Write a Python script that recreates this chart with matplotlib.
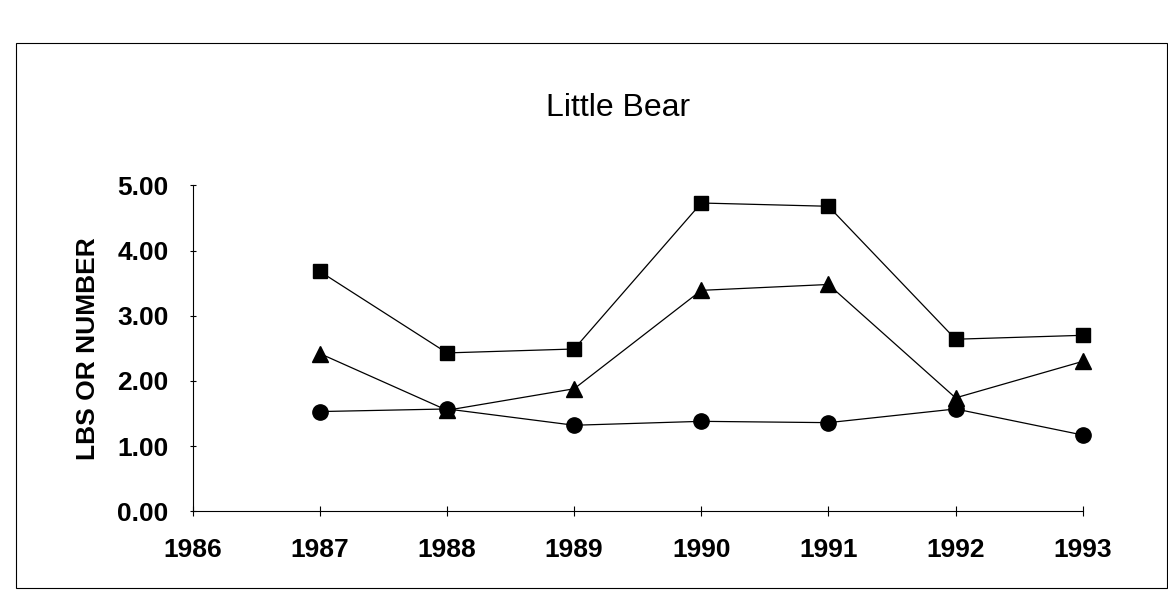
import matplotlib
matplotlib.use("Agg")
from matplotlib import pyplot as plt
from matplotlib.patches import Rectangle

# values
years = [1987, 1988, 1989, 1990, 1991, 1992, 1993]
squares = [3.68, 2.43, 2.49, 4.73, 4.68, 2.64, 2.70]
triangles = [2.42, 1.55, 1.88, 3.39, 3.48, 1.74, 2.30]
circles = [1.53, 1.57, 1.32, 1.38, 1.36, 1.57, 1.17]

x_ticks = [1986, 1987, 1988, 1989, 1990, 1991, 1992, 1993]
y_ticks = [0, 1, 2, 3, 4, 5]

plt.rcParams["font.family"] = ["Liberation Sans", "DejaVu Sans"]

fig = plt.figure(figsize=(11.68, 6.16), dpi=100)
ax = fig.add_axes([0.165, 0.17, 0.762, 0.529])

# frame of the page box
fig.patches.append(Rectangle((0.014, 0.045), 0.985, 0.885, transform=fig.transFigure,
                             fill=False, edgecolor="black", linewidth=0.8))

ax.plot(years, squares, color="black", linewidth=0.9, marker="s", markersize=10.5)
ax.plot(years, triangles, color="black", linewidth=0.9, marker="^", markersize=11)
ax.plot(years, circles, color="black", linewidth=0.9, marker="o", markersize=11)

ax.set_xlim(1986, 1993)
ax.set_ylim(0, 5)
ax.set_xticks(x_ticks)
ax.set_xticklabels([str(y) for y in x_ticks], fontweight="bold")
ax.set_yticks(y_ticks)
ax.set_yticklabels([f"{v:.2f}" for v in y_ticks], fontweight="bold")

for side in ["top", "right"]:
    ax.spines[side].set_visible(False)
for side in ["left", "bottom"]:
    ax.spines[side].set_linewidth(0.8)

ax.tick_params(axis="x", direction="inout", length=7, width=0.8, labelsize=19, pad=16)
ax.tick_params(axis="y", direction="inout", length=5, width=0.8, labelsize=19, pad=15)

ax.set_ylabel("LBS OR NUMBER", fontsize=19, fontweight="bold", labelpad=12)
fig.text(0.529, 0.825, "Little Bear", fontsize=23, ha="center", va="center")

for line in ax.lines:
    line.set_clip_on(False)

fig.savefig("out.png", dpi=100)
